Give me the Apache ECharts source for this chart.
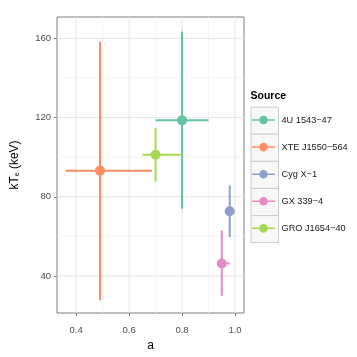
<!DOCTYPE html>
<html><head><meta charset="utf-8">
<script src="https://cdn.jsdelivr.net/npm/echarts@6/dist/echarts.min.js"></script>
<style>html,body{margin:0;padding:0;background:#fff}#c{width:357px;height:357px}</style>
</head><body><div id="c"></div>
<script>
// Data
const sources = ['4U 1543\u221247', 'XTE J1550\u2212564', 'Cyg X\u22121', 'GX 339\u22124', 'GRO J1654\u221240'];
const colors = ['#66C2A5', '#FC8D62', '#8DA0CB', '#E78AC3', '#A6D854'];
const aVals  = [0.80, 0.49, 0.98, 0.95, 0.70];
const aLow   = [0.70, 0.36, 0.98, 0.94, 0.65];
const aHigh  = [0.90, 0.687, 0.98, 0.98, 0.80];
const kTVals = [118.6, 93.2, 72.7, 46.3, 101.2];
const kTLow  = [74, 27.7, 59.7, 30, 87.7];
const kTHigh = [163.5, 158.3, 85.7, 63, 114.7];
const xMajor = [0.4, 0.6, 0.8, 1.0];
const xMinor = [0.5, 0.7, 0.9];
const yMajor = [40, 80, 120, 160];
const yMinor = [60, 100, 140];
const xRange = [0.3276, 1.034];
const yRange = [21.3, 170.8];

const font = 'Liberation Sans, Arial, Helvetica, sans-serif';

function errRender(params, api) {
  const x = api.value(0), y = api.value(1);
  const c = api.coord([x, y]);
  const pxl = api.coord([api.value(2), y]);
  const pxh = api.coord([api.value(3), y]);
  const pyl = api.coord([x, api.value(4)]);
  const pyh = api.coord([x, api.value(5)]);
  const color = api.visual('color');
  return { type: 'group', children: [
    { type: 'line', shape: { x1: pxl[0], y1: c[1], x2: pxh[0], y2: c[1] }, style: { stroke: color, lineWidth: 2 } },
    { type: 'line', shape: { x1: c[0], y1: pyh[1], x2: c[0], y2: pyl[1] }, style: { stroke: color, lineWidth: 2 } },
    { type: 'circle', shape: { cx: c[0], cy: c[1], r: 5 }, style: { fill: color } }
  ]};
}

function gridRender(params, api) {
  const dir = api.value(0), v = api.value(1), major = api.value(2);
  let p1, p2;
  if (dir === 0) { p1 = api.coord([v, yRange[0]]); p2 = api.coord([v, yRange[1]]); }
  else { p1 = api.coord([xRange[0], v]); p2 = api.coord([xRange[1], v]); }
  return { type: 'line', shape: { x1: p1[0], y1: p1[1], x2: p2[0], y2: p2[1] },
    style: { stroke: major ? '#E5E5E5' : '#F3F3F3', lineWidth: major ? 1 : 0.8 } };
}

const gridData = [];
xMinor.forEach(v => gridData.push([0, v, 0]));
yMinor.forEach(v => gridData.push([1, v, 0]));
xMajor.forEach(v => gridData.push([0, v, 1]));
yMajor.forEach(v => gridData.push([1, v, 1]));

const series = [{
  type: 'custom', name: '_grid', renderItem: gridRender, data: gridData, silent: true, z: 1,
  encode: { x: -1, y: -1 }
}];
sources.forEach((s, i) => {
  series.push({
    type: 'custom', name: s, renderItem: errRender, z: 3,
    itemStyle: { color: colors[i] },
    data: [[aVals[i], kTVals[i], aLow[i], aHigh[i], kTLow[i], kTHigh[i]]],
    encode: { x: 0, y: 1 }
  });
});

const legendIcon = 'path://M0,3.5H7.2V5H0Z M15.8,3.5H23V5H15.8Z M7.2,4.3a4.3,4.3 0 1,0 8.6,0a4.3,4.3 0 1,0 -8.6,0Z';

const boxes = sources.map((s, i) => ({
  type: 'rect', left: 250.5, top: 106.7 + i * 27.1,
  shape: { width: 27.5, height: 27 },
  style: { fill: '#F8F8F8', stroke: '#CCCCCC', lineWidth: 1 }, z: 0
}));

const chart = echarts.init(document.getElementById('c'), null, { renderer: 'canvas' });
chart.setOption({
  backgroundColor: '#ffffff',
  animation: false,
  grid: { left: 57, right: 113, top: 17, bottom: 41, show: true, borderColor: '#7F7F7F', borderWidth: 1, backgroundColor: '#fff', containLabel: false },
  xAxis: {
    type: 'value', min: xRange[0], max: xRange[1],
    name: 'a', nameLocation: 'middle', nameGap: 27,
    nameTextStyle: { fontFamily: font, fontSize: 12, color: '#000' },
    axisLine: { show: false },
    axisTick: { show: true, length: 3, lineStyle: { color: '#7F7F7F' }, customValues: xMajor },
    axisLabel: { customValues: xMajor, fontFamily: font, fontSize: 9.5, color: '#4D4D4D', margin: 12, formatter: v => v.toFixed(1) },
    splitLine: { show: false }
  },
  yAxis: {
    type: 'value', min: yRange[0], max: yRange[1],
    name: '{a|kT}{s|e}{a| (keV)}', nameLocation: 'middle', nameGap: 36, nameRotate: 90,
    nameTextStyle: { fontFamily: font, fontSize: 12, color: '#000',
      rich: { a: { fontFamily: font, fontSize: 12, color: '#000' }, s: { fontFamily: font, fontSize: 7, color: '#000', verticalAlign: 'bottom', padding: [4, 0, 0, 0] } } },
    axisLine: { show: false },
    axisTick: { show: true, length: 3, lineStyle: { color: '#7F7F7F' }, customValues: yMajor },
    axisLabel: { customValues: yMajor, fontFamily: font, fontSize: 9.5, color: '#4D4D4D', margin: 6 },
    splitLine: { show: false }
  },
  legend: {
    data: sources, orient: 'vertical', left: 252, top: 114, padding: 0,
    itemWidth: 23, itemHeight: 8.6, itemGap: 15.1, icon: legendIcon, itemStyle: { borderWidth: 0 },
    textStyle: { fontFamily: font, fontSize: 9.2, color: '#1A1A1A', lineHeight: 12, padding: [0, 0, 0, 1.5] },
    selectedMode: false
  },
  graphic: [
    { type: 'text', left: 250.5, top: 91, style: { text: 'Source', font: 'bold 10.5px ' + font, fill: '#000' } },
    ...boxes
  ],
  series: series
});
</script></body></html>
